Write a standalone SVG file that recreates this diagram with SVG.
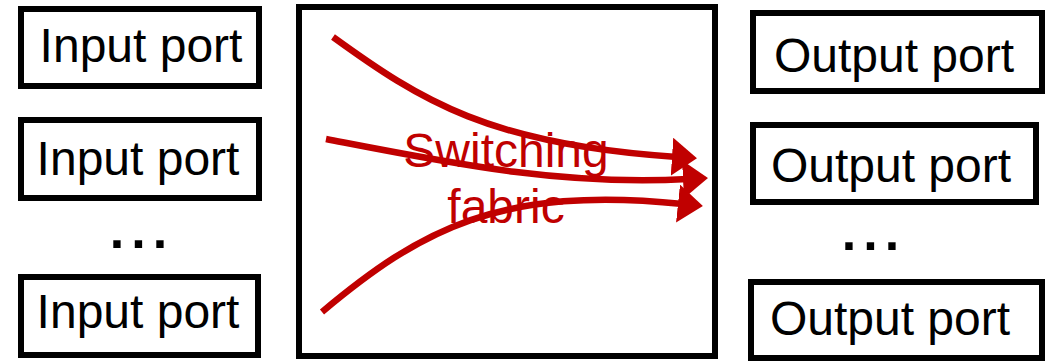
<svg xmlns="http://www.w3.org/2000/svg" width="1056" height="361" viewBox="0 0 1056 361">
<style>
.box{fill:#fff;stroke:#000;stroke-width:6}
.lbl{font-family:"Liberation Sans",Arial,sans-serif;font-size:48px;fill:#000;text-anchor:middle}
.dots{font-family:"Liberation Sans",Arial,sans-serif;font-size:52px;font-weight:bold;fill:#000;text-anchor:middle;letter-spacing:7px}
.red{font-family:"Liberation Sans",Arial,sans-serif;font-size:48px;fill:#C00000;text-anchor:middle}
.conn{fill:none;stroke:#C00000;stroke-width:6.5}
</style>
<defs>
<marker id="ah" markerUnits="userSpaceOnUse" markerWidth="28" markerHeight="40" refX="5" refY="19" orient="auto" viewBox="0 0 28 40">
<path d="M0,0 L25,19 L0,38 z" fill="#C00000"/>
</marker>
</defs>
<rect width="1056" height="361" fill="#fff"/>
<g id="input1"><rect class="box" x="21" y="9" width="238" height="77"/><text class="lbl" x="141" y="62">Input port</text></g>
<g id="input2"><rect class="box" x="21" y="120" width="238" height="78"/><text class="lbl" x="138" y="175">Input port</text></g>
<text class="dots" x="142" y="248">...</text>
<g id="input3"><rect class="box" x="21" y="277" width="237" height="78"/><text class="lbl" x="138" y="328">Input port</text></g>
<g id="fabric"><rect class="box" x="299" y="7" width="416" height="349"/>
<text class="red" x="506" y="167">Switching</text><text class="red" x="506" y="223">fabric</text></g>
<g id="output1"><rect class="box" x="753" y="13" width="289" height="78"/><text class="lbl" x="894" y="72">Output port</text></g>
<g id="output2"><rect class="box" x="753" y="125" width="283" height="77"/><text class="lbl" x="891" y="182">Output port</text></g>
<text class="dots" x="874" y="250">...</text>
<g id="output3"><rect class="box" x="751" y="282" width="291" height="76"/><text class="lbl" x="890" y="335">Output port</text></g>
<g id="connectors">
<path class="conn" marker-end="url(#ah)" d="M333,37 C420,100 490,145 677,157"/>
<path class="conn" marker-end="url(#ah)" d="M326,139 C450,163 560,186 688,179"/>
<path class="conn" marker-end="url(#ah)" d="M322,312 C420,230 500,185 683,204"/>
</g>
</svg>
